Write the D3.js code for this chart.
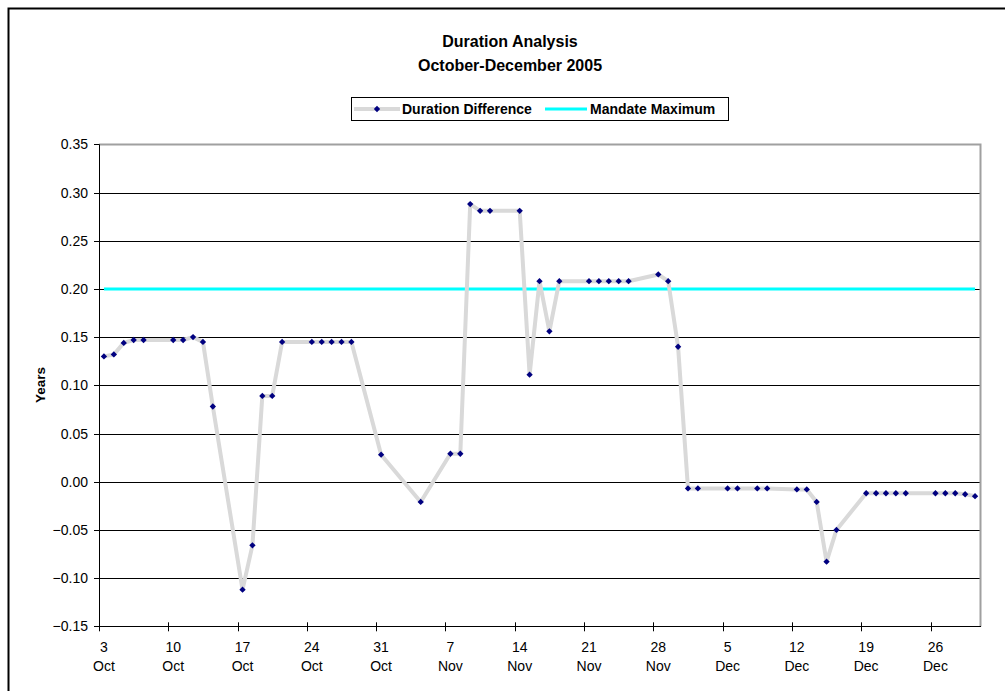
<!DOCTYPE html>
<html>
<head>
<meta charset="utf-8">
<script src="https://cdn.jsdelivr.net/npm/d3@7"></script>
<style>
  body { margin: 0; background: #fff; }
  svg text { font-family: "Liberation Sans", Arial, sans-serif; fill: #000; }
</style>
</head>
<body>
<svg id="chart" width="1005" height="691"></svg>
<script>
// trading days and the duration difference (years)
const dates = [
  '2005-10-03','2005-10-04','2005-10-05','2005-10-06','2005-10-07',
  '2005-10-10','2005-10-11','2005-10-12','2005-10-13','2005-10-14',
  '2005-10-17','2005-10-18','2005-10-19','2005-10-20','2005-10-21',
  '2005-10-24','2005-10-25','2005-10-26','2005-10-27','2005-10-28',
  '2005-10-31','2005-11-04',
  '2005-11-07','2005-11-08','2005-11-09','2005-11-10','2005-11-11',
  '2005-11-14','2005-11-15','2005-11-16','2005-11-17','2005-11-18',
  '2005-11-21','2005-11-22','2005-11-23','2005-11-24','2005-11-25',
  '2005-11-28','2005-11-29','2005-11-30','2005-12-01','2005-12-02',
  '2005-12-05','2005-12-06','2005-12-08','2005-12-09',
  '2005-12-12','2005-12-13','2005-12-14','2005-12-15','2005-12-16',
  '2005-12-19','2005-12-20','2005-12-21','2005-12-22','2005-12-23',
  '2005-12-26','2005-12-27','2005-12-28','2005-12-29','2005-12-30'
]
const durationDiff = [
  0.130, 0.132, 0.144, 0.147, 0.147,
  0.147, 0.147, 0.150, 0.145, 0.078,
  -0.112, -0.066, 0.089, 0.089, 0.145,
  0.145, 0.145, 0.145, 0.145, 0.145,
  0.028, -0.021,
  0.029, 0.029, 0.288, 0.281, 0.281,
  0.281, 0.111, 0.208, 0.156, 0.208,
  0.208, 0.208, 0.208, 0.208, 0.208,
  0.215, 0.208, 0.140, -0.007, -0.007,
  -0.007, -0.007, -0.007, -0.007,
  -0.008, -0.008, -0.021, -0.083, -0.050,
  -0.012, -0.012, -0.012, -0.012, -0.012,
  -0.012, -0.012, -0.012, -0.013, -0.015
]
const mandateMax = 0.20
const yTicks = [-0.15, -0.10, -0.05, 0.00, 0.05, 0.10, 0.15, 0.20, 0.25, 0.30, 0.35]
const xStart = '2005-10-03'
const xEnd = '2005-12-31'
const titleLines = ['Duration Analysis', 'October-December 2005']
const legendNames = ['Duration Difference', 'Mandate Maximum']

const parse = d3.utcParse('%Y-%m-%d')
const L = 99, R = 980, T = 144.3, B = 626.3

let svg = d3.select('svg#chart')

// outer frame
svg.append('rect')
  .attr('x', 8.5).attr('y', 8.5).attr('width', 1010).attr('height', 700)
  .attr('fill', 'none').attr('stroke', '#000').attr('stroke-width', 2)

let x = d3.scaleUtc().domain([ parse(xStart), parse(xEnd) ]).range([ L, R ])
let y = d3.scaleLinear().domain([ -0.15, 0.35 ]).range([ B, T ])
let mid = d => d3.utcHour.offset(d, 12)   // points sit in the middle of each day

let pts = dates.map((d, i) => ({ date: parse(d), v: durationDiff[i] }))

// horizontal gridlines
svg.append('g')
  .selectAll('line')
  .data(yTicks)
  .enter()
  .append('line')
  .attr('x1', L).attr('x2', R)
  .attr('y1', d => Math.round(y(d)) + 0.5)
  .attr('y2', d => Math.round(y(d)) + 0.5)
  .attr('stroke', '#000').attr('stroke-width', 1)

// plot border (right / top)
svg.append('path')
  .attr('d', `M${L},${Math.round(T) + 0.5}H${R + 0.5}V${Math.round(B) + 0.5}`)
  .attr('fill', 'none').attr('stroke', '#a0a0a0').attr('stroke-width', 2)

// y axis
let yAxis = svg.append('g')
yAxis.append('line')
  .attr('x1', L + 0.5).attr('x2', L + 0.5).attr('y1', T).attr('y2', B + 1)
  .attr('stroke', '#000')
yAxis.selectAll('line.tk')
  .data(yTicks)
  .enter()
  .append('line')
  .attr('class', 'tk')
  .attr('x1', L - 5).attr('x2', L)
  .attr('y1', d => Math.round(y(d)) + 0.5)
  .attr('y2', d => Math.round(y(d)) + 0.5)
  .attr('stroke', '#000')
yAxis.selectAll('text')
  .data(yTicks)
  .enter()
  .append('text')
  .attr('x', L - 11)
  .attr('y', d => y(d))
  .attr('dy', '0.36em')
  .attr('text-anchor', 'end')
  .style('font-size', '14px')
  .text(d => d3.format('.2f')(d))

svg.append('text')
  .attr('transform', 'translate(45,385) rotate(-90)')
  .attr('text-anchor', 'middle')
  .style('font-size', '13.5px').style('font-weight', 'bold')
  .text('Years')

// x axis
let xTicks = d3.utcDay.range(parse(xStart), parse(xEnd), 7)
let xAxis = svg.append('g')
xAxis.append('line')
  .attr('x1', L).attr('x2', R + 1)
  .attr('y1', Math.round(B) + 0.5).attr('y2', Math.round(B) + 0.5)
  .attr('stroke', '#000')
xAxis.selectAll('line.tk')
  .data(xTicks)
  .enter()
  .append('line')
  .attr('class', 'tk')
  .attr('x1', d => Math.round(x(d)) + 0.5).attr('x2', d => Math.round(x(d)) + 0.5)
  .attr('y1', B - 4).attr('y2', B + 5)
  .attr('stroke', '#000')
let xl = xAxis.selectAll('text')
  .data(xTicks)
  .enter()
  .append('text')
  .attr('text-anchor', 'middle')
  .style('font-size', '14px')
xl.append('tspan')
  .attr('x', d => x(mid(d)))
  .attr('y', 651.5)
  .text(d => d3.utcFormat('%-d')(d))
xl.append('tspan')
  .attr('x', d => x(mid(d)))
  .attr('y', 671)
  .text(d => d3.utcFormat('%b')(d))

// mandate maximum
svg.append('line')
  .attr('x1', x(mid(pts[0].date)))
  .attr('x2', x(mid(pts[pts.length - 1].date)))
  .attr('y1', y(mandateMax)).attr('y2', y(mandateMax))
  .attr('stroke', '#00ffff').attr('stroke-width', 3)

// duration difference line + markers
let line = d3.line()
  .x(d => x(mid(d.date)))
  .y(d => y(d.v))

svg.append('path')
  .datum(pts)
  .attr('d', line)
  .attr('fill', 'none')
  .attr('stroke', '#d9d9d9')
  .attr('stroke-width', 4)
  .attr('stroke-linejoin', 'round')

let diamond = d3.symbol(d3.symbolSquare, 20)
svg.append('g')
  .selectAll('path')
  .data(pts)
  .enter()
  .append('path')
  .attr('d', diamond)
  .attr('transform', d => `translate(${x(mid(d.date))},${y(d.v)}) rotate(45)`)
  .attr('fill', '#000080')

// title
svg.append('g')
  .selectAll('text')
  .data(titleLines)
  .enter()
  .append('text')
  .attr('x', 510)
  .attr('y', (d, i) => 47 + i * 24)
  .attr('text-anchor', 'middle')
  .style('font-size', '16px').style('font-weight', 'bold')
  .text(d => d)

// legend
let lg = svg.append('g')
lg.append('rect')
  .attr('x', 351.5).attr('y', 97.5).attr('width', 377).attr('height', 23)
  .attr('fill', '#fff').attr('stroke', '#000')
lg.append('line')
  .attr('x1', 354).attr('x2', 400).attr('y1', 109).attr('y2', 109)
  .attr('stroke', '#d9d9d9').attr('stroke-width', 4)
lg.append('path')
  .attr('d', diamond)
  .attr('transform', 'translate(377,109) rotate(45)')
  .attr('fill', '#000080')
lg.append('line')
  .attr('x1', 545).attr('x2', 587).attr('y1', 109).attr('y2', 109)
  .attr('stroke', '#00ffff').attr('stroke-width', 3)
lg.selectAll('text')
  .data(legendNames)
  .enter()
  .append('text')
  .attr('x', (d, i) => i == 0 ? 402 : 590)
  .attr('y', 114)
  .style('font-size', '14px').style('font-weight', 'bold')
  .text(d => d)
</script>
</body>
</html>
